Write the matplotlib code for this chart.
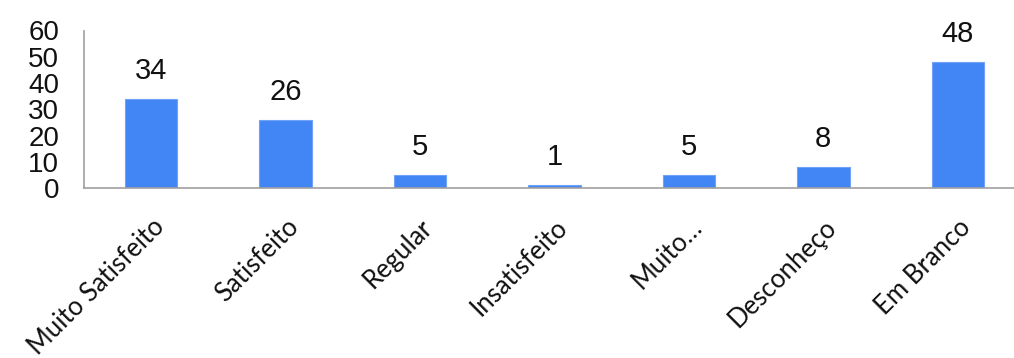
import matplotlib.pyplot as plt

# satisfaction survey counts
categories = ["Muito Satisfeito", "Satisfeito", "Regular", "Insatisfeito",
              "Muito…", "Desconheço", "Em Branco"]
counts = [34, 26, 5, 1, 5, 8, 48]
yticks = [0, 10, 20, 30, 40, 50, 60]

fig = plt.figure(figsize=(10.14, 3.58), dpi=100)
# axes run slightly past the right edge of the figure
ax = fig.add_axes([84 / 1014, 1 - 188 / 358, (1025 - 84) / 1014, (188 - 30.5) / 358])

x = range(len(categories))
bars = ax.bar(x, counts, width=0.39, color="#4285F4", edgecolor="#6FA3F7", linewidth=0.8)

for b, v in zip(bars, counts):
    ax.annotate(str(v), (b.get_x() + b.get_width() / 2, v), xytext=(0, 14.5),
                textcoords="offset points", ha="center", va="baseline",
                fontsize=21, family="Liberation Sans", color="#111111")

ax.set_xlim(-0.5, len(categories) - 0.5)
ax.set_ylim(0, 60)
ax.set_yticks(yticks)
ax.set_yticklabels([str(t) for t in yticks], fontsize=20, family="Liberation Sans",
                   color="#111111")
ax.set_xticks(list(x))
ax.set_xticklabels(categories, rotation=45, ha="right", va="top", rotation_mode="anchor",
                   fontsize=18.5, family="Lato", color="#111111")
ax.tick_params(axis="both", length=0)
ax.tick_params(axis="y", pad=18)
ax.tick_params(axis="x", pad=19)

for s in ["top", "right"]:
    ax.spines[s].set_visible(False)
for s in ["left", "bottom"]:
    ax.spines[s].set_color("#A0A0A0")
    ax.spines[s].set_linewidth(1.2)

fig.savefig("out.png", dpi=100)
